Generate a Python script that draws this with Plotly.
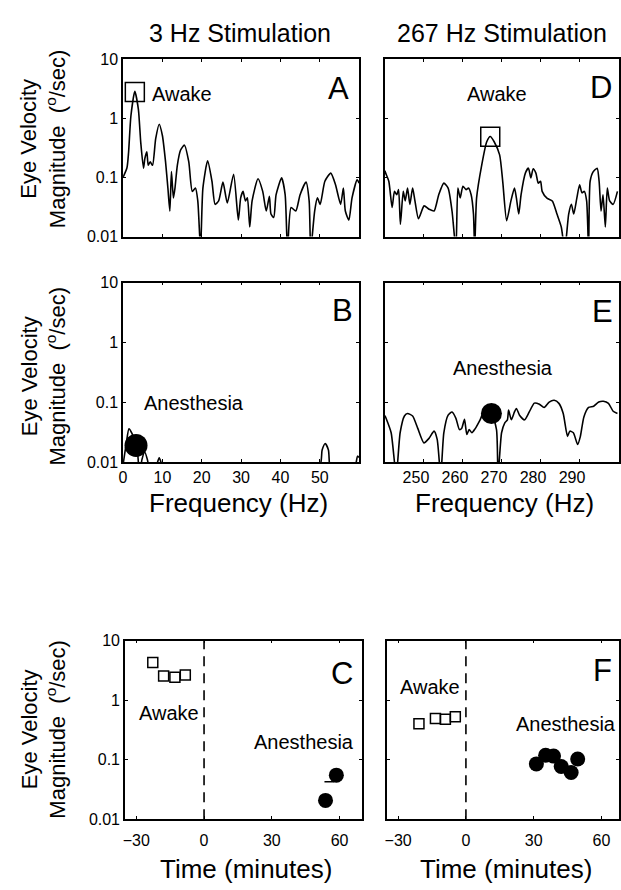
import plotly.graph_objects as go

# ---------------- data ----------------
# Panel A: 3 Hz stimulation, awake spectrum
a_freq = [0.0, 1.0, 1.4, 2.0, 3.0, 3.9, 4.5, 5.2, 5.55, 6.05, 6.4, 6.9, 7.5, 8.3, 9.2, 10.0, 10.8, 11.4, 11.9,
          12.3, 12.8, 13.2, 13.8, 14.6, 15.6, 16.7, 17.6, 18.4, 19.0, 19.7, 20.3, 21.5, 22.6, 23.4, 24.3, 25.4,
          26.5, 28.1, 29.3, 29.9, 30.5, 31.1, 31.6, 32.2, 32.8, 34.3, 35.5, 36.4, 37.2, 37.6, 38.3, 38.9, 40.3,
          41.2, 41.8, 42.7, 43.9, 45.0, 46.5, 47.3, 47.7, 48.7, 49.4, 50.1, 51.3, 52.8, 54.0, 55.3, 56.0, 56.5,
          57.4, 58.2, 59.5, 60.0]
a_mag = [0.10, 0.145, 0.26, 1.09, 2.84, 1.41, 0.39, 0.143, 0.209, 0.27, 0.16, 0.184, 0.16, 0.45, 0.79, 0.51,
         0.184, 0.066, 0.027, 0.125, 0.045, 0.066, 0.16, 0.287, 0.35, 0.184, 0.058, 0.066, 0.040, 0.006, 0.066,
         0.19, 0.086, 0.035, 0.040, 0.083, 0.037, 0.113, 0.019, 0.045, 0.058, 0.040, 0.045, 0.0145, 0.040, 0.095,
         0.058, 0.027, 0.048, 0.024, 0.021, 0.051, 0.098, 0.051, 0.006, 0.031, 0.027, 0.051, 0.083, 0.040, 0.006,
         0.027, 0.045, 0.035, 0.086, 0.118, 0.075, 0.035, 0.066, 0.027, 0.019, 0.045, 0.091, 0.08]

# Panel B: 3 Hz stimulation, anesthesia spectrum
b_freq = [0.0, 0.8, 1.5, 2.3, 3.0, 3.7, 4.2, 4.8, 5.5, 6.2, 7.0, 8.3, 9.2, 10.1, 11.0, 49.8, 50.6, 51.4,
          52.2, 53.0, 58.8, 59.6, 60.0]
b_mag = [0.009, 0.02, 0.036, 0.03, 0.022, 0.014, 0.006, 0.011, 0.0148, 0.011, 0.006, 0.008, 0.0118, 0.008,
         0.006, 0.008, 0.016, 0.0205, 0.016, 0.006, 0.008, 0.0126, 0.012]

# Panel D: 267 Hz stimulation, awake spectrum
d_freq = [240.0, 240.2, 241.0, 241.85, 242.45, 243.04, 243.5, 243.97, 244.7, 245.2, 245.8, 246.4, 247.1, 247.7,
          248.6, 250.05, 251.3, 252.6, 253.8, 255.1, 256.2, 257.2, 258.2, 258.7, 259.3, 260.0, 260.8, 261.4,
          262.1, 262.7, 263.0, 263.5, 264.8, 266.1, 267.0, 268.0, 269.4, 270.2, 271.2, 272.3, 273.2, 273.7,
          274.3, 274.9, 276.0, 276.8, 277.4, 278.0, 278.7, 279.3, 279.9, 280.3, 281.6, 282.9, 284.1, 285.2,
          286.1, 287.1, 287.8, 288.4, 289.2, 289.9, 290.5, 291.1, 291.7, 292.2, 292.6, 293.4, 294.4, 294.9,
          295.4, 295.9, 296.5, 297.0, 297.6, 298.5, 299.6]
d_mag = [0.13, 0.118, 0.086, 0.031, 0.058, 0.051, 0.062, 0.016, 0.058, 0.040, 0.066, 0.035, 0.066, 0.040,
         0.020, 0.033, 0.029, 0.027, 0.051, 0.080, 0.066, 0.027, 0.006, 0.066, 0.045, 0.071, 0.062, 0.066,
         0.051, 0.024, 0.006, 0.045, 0.16, 0.40, 0.49, 0.40, 0.24, 0.085, 0.0185, 0.040, 0.066, 0.045, 0.024,
         0.051, 0.118, 0.143, 0.098, 0.14, 0.118, 0.080, 0.086, 0.058, 0.044, 0.040, 0.024, 0.0145, 0.006,
         0.024, 0.035, 0.024, 0.045, 0.075, 0.055, 0.058, 0.040, 0.006, 0.086, 0.125, 0.143, 0.086, 0.027,
         0.051, 0.0145, 0.066, 0.040, 0.035, 0.058]

# Panel E: 267 Hz stimulation, anesthesia spectrum
e_freq = [240.0, 240.3, 241.6, 242.9, 243.9, 245.0, 245.8, 247.1, 248.4, 250.0, 251.3, 252.6, 253.4, 254.3,
          255.1, 256.2, 257.2, 258.2, 259.1, 259.7, 260.4, 261.0, 261.6, 262.3, 263.1, 264.4, 265.2, 267.3,
          268.6, 269.0, 269.9, 270.7, 271.4, 271.7, 272.4, 273.2, 273.7, 274.5, 275.8, 277.0, 278.3, 279.6,
          280.8, 282.1, 283.4, 284.6, 285.7, 286.8, 287.4, 288.3, 289.4, 290.1, 291.0, 292.2, 293.5, 294.8,
          296.0, 297.3, 298.5, 299.6]
e_mag = [0.06, 0.054, 0.031, 0.006, 0.031, 0.059, 0.065, 0.059, 0.037, 0.021, 0.025, 0.033, 0.024, 0.006,
         0.031, 0.061, 0.069, 0.054, 0.035, 0.037, 0.052, 0.029, 0.035, 0.031, 0.036, 0.051, 0.065, 0.065,
         0.035, 0.006, 0.031, 0.045, 0.051, 0.074, 0.051, 0.069, 0.079, 0.061, 0.051, 0.069, 0.097, 0.093,
         0.082, 0.101, 0.108, 0.096, 0.065, 0.027, 0.033, 0.031, 0.0197, 0.027, 0.057, 0.082, 0.086, 0.101,
         0.104, 0.096, 0.071, 0.065]

# Stimulus-frequency markers
a_stim = ([3.0], [2.78])
b_stim = ([3.3], [0.019])
d_stim = ([267.0], [0.486])
e_stim = ([267.3], [0.065])

# Panels C, F: magnitude over time
c_awake_t = [-22.7, -17.9, -12.9, -8.3]
c_awake_v = [4.3, 2.55, 2.43, 2.65]
c_anes_t = [53.8, 58.6]
c_anes_v = [0.0207, 0.055]
c_bar_t = [55.5]
c_bar_v = [0.0425]
f_awake_t = [-20.8, -13.5, -9.1, -4.7]
f_awake_v = [0.40, 0.494, 0.48, 0.525]
f_anes_t = [31.2, 35.3, 38.8, 42.2, 46.6, 49.5]
f_anes_v = [0.085, 0.119, 0.115, 0.077, 0.061, 0.103]

y_ticks = [0.01, 0.1, 1, 10]
y_ticktext = ["0.01", "0.1", "1", "10"]
freq_lo_ticks = [0, 10, 20, 30, 40, 50]
freq_hi_ticks = [250, 260, 270, 280, 290]
time_ticks = [-30, 0, 30, 60]
time_ticktext = ["\u221230", "0", "30", "60"]

assert len(a_freq) == len(a_mag) and len(b_freq) == len(b_mag)
assert len(d_freq) == len(d_mag) and len(e_freq) == len(e_mag)

# ---------------- figure ----------------
W, H = 621, 890
FONT = "Liberation Sans, Arial, Helvetica, sans-serif"


def px_x(p):
    return p / W


def px_y(p):
    return 1 - p / H


fig = go.Figure()
line = dict(color="black", width=1.6, shape="spline", smoothing=0.6, simplify=False)

fig.add_trace(go.Scatter(x=a_freq, y=a_mag, mode="lines", line=line, xaxis="x", yaxis="y"))
fig.add_trace(go.Scatter(x=a_stim[0], y=a_stim[1], mode="markers", xaxis="x", yaxis="y",
                         marker=dict(symbol="square-open", size=19, color="black", line=dict(width=1.5))))
fig.add_trace(go.Scatter(x=b_freq, y=b_mag, mode="lines", line=line, xaxis="x2", yaxis="y2"))
fig.add_trace(go.Scatter(x=b_stim[0], y=b_stim[1], mode="markers", xaxis="x2", yaxis="y2",
                         marker=dict(symbol="circle", size=23, color="black")))
fig.add_trace(go.Scatter(x=c_awake_t, y=c_awake_v, mode="markers", xaxis="x3", yaxis="y3",
                         marker=dict(symbol="square-open", size=10, color="black", line=dict(width=1.5))))
fig.add_trace(go.Scatter(x=c_anes_t, y=c_anes_v, mode="markers", xaxis="x3", yaxis="y3",
                         marker=dict(symbol="circle", size=15, color="black")))
fig.add_trace(go.Scatter(x=c_bar_t, y=c_bar_v, mode="markers", xaxis="x3", yaxis="y3",
                         marker=dict(symbol="line-ew", size=7, color="black", line=dict(width=1.5, color="black"))))
fig.add_trace(go.Scatter(x=d_freq, y=d_mag, mode="lines", line=line, xaxis="x4", yaxis="y4"))
fig.add_trace(go.Scatter(x=d_stim[0], y=d_stim[1], mode="markers", xaxis="x4", yaxis="y4",
                         marker=dict(symbol="square-open", size=19, color="black", line=dict(width=1.5))))
fig.add_trace(go.Scatter(x=e_freq, y=e_mag, mode="lines", line=line, xaxis="x5", yaxis="y5"))
fig.add_trace(go.Scatter(x=e_stim[0], y=e_stim[1], mode="markers", xaxis="x5", yaxis="y5",
                         marker=dict(symbol="circle", size=21, color="black")))
fig.add_trace(go.Scatter(x=f_awake_t, y=f_awake_v, mode="markers", xaxis="x6", yaxis="y6",
                         marker=dict(symbol="square-open", size=10, color="black", line=dict(width=1.5))))
fig.add_trace(go.Scatter(x=f_anes_t, y=f_anes_v, mode="markers", xaxis="x6", yaxis="y6",
                         marker=dict(symbol="circle", size=15, color="black")))

# panel geometry in pixels (left, right, top, bottom)
panels = {
    "": (120, 358, 52, 233),
    "2": (120, 358, 280, 463),
    "3": (122, 361, 645, 827),
    "4": (384, 620, 52, 233),
    "5": (384, 620, 280, 463),
    "6": (386, 620, 645, 827),
}
xranges = {"": [0, 60], "2": [0, 60], "3": [-35, 70], "4": [240, 300], "5": [240, 300], "6": [-35, 67.8]}
xtickv = {"": freq_lo_ticks, "2": freq_lo_ticks, "3": time_ticks, "4": freq_hi_ticks, "5": freq_hi_ticks,
          "6": time_ticks}
xlabels_on = {"": False, "2": True, "3": True, "4": False, "5": True, "6": True}
ylabels_on = {"": True, "2": True, "3": True, "4": False, "5": False, "6": False}
xstandoff = {"": 0, "2": 0, "3": 6, "4": 0, "5": 0, "6": 6}

axis_common = dict(showline=True, linecolor="black", linewidth=1.6, mirror="ticks", ticks="inside",
                   ticklen=3, tickcolor="black", tickwidth=1, showgrid=False, zeroline=False,
                   tickfont=dict(family=FONT, size=16, color="black"))

for k, (l, r, t, b) in panels.items():
    xa = dict(axis_common, domain=[px_x(l), px_x(r)], range=xranges[k], anchor="y" + k,
              tickvals=xtickv[k], showticklabels=xlabels_on[k])
    if xstandoff[k]:
        xa["ticklabelstandoff"] = xstandoff[k]
    if k in ("3", "6"):
        xa["ticktext"] = time_ticktext
    if k == "5":
        xa["ticklabelshift"] = -8
    ya = dict(axis_common, domain=[px_y(b), px_y(t)], type="log", range=[-2, 1], anchor="x" + k,
              tickvals=y_ticks, ticktext=y_ticktext, showticklabels=ylabels_on[k])
    fig.layout["xaxis" + k] = xa
    fig.layout["yaxis" + k] = ya

# dashed zero lines in C and F
for k in ("3", "6"):
    fig.add_shape(type="line", xref="x" + k, yref="y" + k + " domain", x0=0, x1=0, y0=0, y1=1,
                  line=dict(color="black", width=1.6, dash="10px,7px"))

annotations = []


def txt(s, x, y, size, **kw):
    annotations.append(dict(text=s, x=px_x(x), y=px_y(y), xref="paper", yref="paper", showarrow=False,
                            xanchor="center", yanchor="middle",
                            font=dict(family=FONT, size=size, color="black"), **kw))


txt("3 Hz Stimulation", 238, 25, 25)
txt("267 Hz Stimulation", 502, 25, 25)
for s, x, y in [("A", 337, 82), ("D", 602, 81), ("B", 341, 308), ("E", 603, 309), ("C", 341, 678),
                ("F", 603, 675)]:
    txt(s, x, y, 31)
txt("Awake", 179, 88, 20)
txt("Awake", 497, 88, 20)
txt("Anesthesia", 192, 403, 20)
txt("Anesthesia", 503, 367, 20)
txt("Awake", 166, 719, 20)
txt("Anesthesia", 302, 748, 20)
txt("Awake", 429, 692, 20)
txt("Anesthesia", 567, 730, 20)
txt("Frequency (Hz)", 236, 505, 26)
txt("Frequency (Hz)", 505, 505, 26)
txt("Time (minutes)", 244, 878, 26)
txt("Time (minutes)", 506, 878, 26)
for yc in (133, 375, 735):
    txt("Eye Velocity<br>Magnitude  (<sup>o</sup>/sec)", 40, yc, 22, textangle=-90)

fig.update_layout(width=W, height=H, margin=dict(l=0, r=0, t=0, b=0), showlegend=False,
                  paper_bgcolor="white", plot_bgcolor="white", annotations=annotations)

fig.write_html("out.html")
